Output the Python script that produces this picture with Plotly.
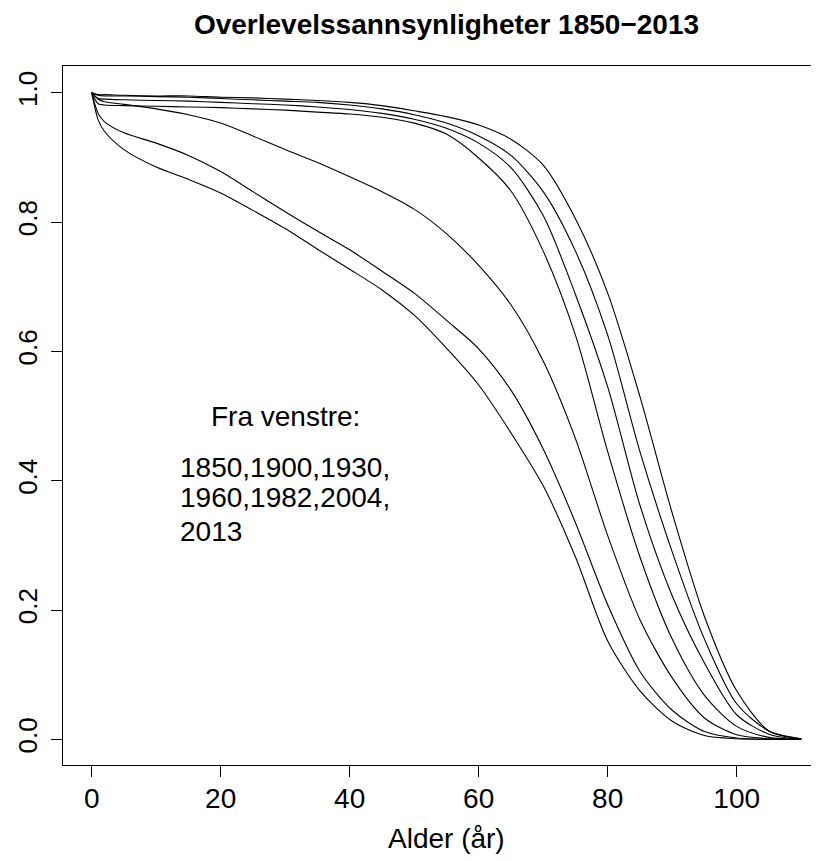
import plotly.graph_objects as go

# Age grid (years)
ages = [0, 1, 2, 5, 10, 15, 20, 25, 30, 35, 40, 45, 50, 55, 60, 65, 70, 75, 80, 85, 90, 95, 100, 105, 110]

# Survival probabilities
s1850 = [1.0, 0.958, 0.940, 0.912, 0.885, 0.866, 0.845, 0.818, 0.790, 0.758, 0.727, 0.695, 0.656, 0.605,
         0.548, 0.474, 0.392, 0.282, 0.152, 0.075, 0.028, 0.006, 0.001, 0.0, 0.0]
s1900 = [1.0, 0.968, 0.955, 0.938, 0.922, 0.903, 0.878, 0.847, 0.816, 0.786, 0.757, 0.724, 0.690, 0.648,
         0.604, 0.540, 0.449, 0.335, 0.208, 0.105, 0.045, 0.012, 0.002, 0.0, 0.0]
s1930 = [1.0, 0.990, 0.986, 0.982, 0.975, 0.966, 0.953, 0.933, 0.912, 0.892, 0.870, 0.847, 0.820, 0.782,
         0.733, 0.672, 0.585, 0.465, 0.315, 0.185, 0.095, 0.033, 0.007, 0.001, 0.0]
s1960 = [1.0, 0.983, 0.981, 0.980, 0.979, 0.978, 0.977, 0.975, 0.973, 0.970, 0.967, 0.962, 0.953, 0.936,
         0.899, 0.848, 0.755, 0.625, 0.445, 0.282, 0.155, 0.068, 0.020, 0.003, 0.0]
s1982 = [1.0, 0.991, 0.990, 0.989, 0.988, 0.987, 0.985, 0.983, 0.981, 0.978, 0.974, 0.968, 0.959, 0.945,
         0.922, 0.884, 0.810, 0.688, 0.545, 0.362, 0.222, 0.118, 0.038, 0.008, 0.0]
s2004 = [1.0, 0.996, 0.995, 0.995, 0.994, 0.993, 0.991, 0.989, 0.987, 0.985, 0.981, 0.975, 0.966, 0.953,
         0.933, 0.903, 0.847, 0.755, 0.625, 0.445, 0.290, 0.155, 0.055, 0.013, 0.001]
s2013 = [1.0, 0.997, 0.997, 0.996, 0.995, 0.995, 0.993, 0.992, 0.990, 0.988, 0.985, 0.980, 0.972, 0.963,
         0.950, 0.928, 0.888, 0.805, 0.690, 0.530, 0.350, 0.190, 0.075, 0.013, 0.001]

years = ["1850", "1900", "1930", "1960", "1982", "2004", "2013"]
series = [s1850, s1900, s1930, s1960, s1982, s2004, s2013]

x_ticks = [0, 20, 40, 60, 80, 100]
y_ticks = [0.0, 0.2, 0.4, 0.6, 0.8, 1.0]
y_ticktext = ["0.0", "0.2", "0.4", "0.6", "0.8", "1.0"]

title_text = "Overlevelssannsynligheter 1850\u22122013"
xlabel = "Alder (år)"
note_head = "Fra venstre:"
note_lines = ["1850,1900,1930,", "1960,1982,2004,", "2013"]

FONT = "Liberation Sans, Arial, Helvetica, sans-serif"
FS = 28

# The page body has an 8px margin, so the figure is laid out 8px smaller and shifted.
W, H = 811, 853
OFF = 8

fig = go.Figure()
for name, s in zip(years, series):
    fig.add_trace(go.Scatter(x=ages, y=s, mode="lines", name=name,
                             line=dict(color="black", width=1.1, shape="spline", smoothing=0.8),
                             showlegend=False))

plot_left, plot_top, plot_bottom = 63 - OFF, 66 - OFF, 765 - OFF
fig.update_layout(
    width=W, height=H,
    margin=dict(l=plot_left, r=0, t=plot_top, b=H - plot_bottom),
    paper_bgcolor="white", plot_bgcolor="white",
    font=dict(family=FONT, size=FS, color="black"),
    title=dict(text="<b>" + title_text + "</b>", x=(446.5 - OFF) / W, xref="container", xanchor="center",
               y=1 - (24 - OFF) / H, yref="container", yanchor="middle",
               font=dict(family=FONT, size=28, color="black")),
)

fig.update_xaxes(range=[-4.45, 112.76], showgrid=False, zeroline=False,
                 showline=True, linecolor="black", linewidth=1, mirror=True,
                 ticks="outside", ticklen=11, tickcolor="black", tickwidth=1,
                 tickvals=x_ticks, ticktext=[str(v) for v in x_ticks],
                 tickfont=dict(size=FS), ticklabelstandoff=-3)
fig.update_yaxes(range=[-0.0397, 1.0413], showgrid=False, zeroline=False,
                 showline=True, linecolor="black", linewidth=1, mirror=False,
                 ticks="outside", ticklen=11, tickcolor="black", tickwidth=1,
                 tickvals=y_ticks, ticktext=y_ticktext, tickangle=-90,
                 tickfont=dict(size=26), ticklabelstandoff=4)

plot_w = W - plot_left
plot_h = plot_bottom - plot_top
fig.add_annotation(text=xlabel, xref="paper", yref="paper",
                   x=(446.5 - 63) / plot_w, y=-(838 - 765) / plot_h,
                   xanchor="center", yanchor="middle", showarrow=False, font=dict(size=FS))

fig.add_annotation(text=note_head, x=30, y=0.5, xanchor="center", yanchor="middle",
                   showarrow=False, font=dict(size=FS))
fig.add_annotation(text=note_lines[0], x=30, y=0.421, xanchor="center", yanchor="middle",
                   showarrow=False, font=dict(size=FS))
fig.add_annotation(text=note_lines[1], x=30, y=0.374, xanchor="center", yanchor="middle",
                   showarrow=False, font=dict(size=FS))
fig.add_annotation(text=note_lines[2], x=13.4, y=0.321, xanchor="left", yanchor="middle",
                   showarrow=False, font=dict(size=FS))

fig.write_html("out.html")
